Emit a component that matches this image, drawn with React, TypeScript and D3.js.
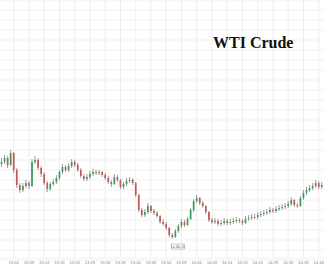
import React from "react";
import * as d3 from "d3";

const W = 324;
const H = 267;

const opens = [66.86,66.88,66.92,66.85,66.97,66.80,66.65,66.60,66.64,66.67,66.64,66.88,66.90,66.82,66.76,66.67,66.61,66.66,66.68,66.72,66.78,66.83,66.80,66.84,66.88,66.85,66.80,66.74,66.71,66.73,66.76,66.78,66.77,66.78,66.75,66.72,66.68,66.66,66.73,66.70,66.63,66.66,66.69,66.70,66.67,66.55,66.40,66.35,66.38,66.44,66.39,66.37,66.34,66.28,66.26,66.22,66.15,66.13,66.19,66.24,66.28,66.25,66.31,66.40,66.49,66.52,66.47,66.44,66.38,66.30,66.28,66.29,66.26,66.27,66.29,66.27,66.28,66.29,66.30,66.29,66.27,66.31,66.32,66.33,66.33,66.35,66.36,66.37,66.38,66.40,66.39,66.41,66.42,66.43,66.44,66.46,66.50,66.45,66.44,66.52,66.57,66.60,66.62,66.64,66.67,66.63,66.65,66.64];
const closes = [66.88,66.92,66.85,66.97,66.80,66.65,66.60,66.64,66.67,66.64,66.88,66.90,66.82,66.76,66.67,66.61,66.66,66.68,66.72,66.78,66.83,66.80,66.84,66.88,66.85,66.80,66.74,66.71,66.73,66.76,66.78,66.77,66.78,66.75,66.72,66.68,66.66,66.73,66.70,66.63,66.66,66.69,66.70,66.67,66.55,66.40,66.35,66.38,66.44,66.39,66.37,66.34,66.28,66.26,66.22,66.15,66.13,66.19,66.24,66.28,66.25,66.31,66.40,66.49,66.52,66.47,66.44,66.38,66.30,66.28,66.29,66.26,66.27,66.29,66.27,66.28,66.29,66.30,66.29,66.27,66.31,66.32,66.33,66.33,66.35,66.36,66.37,66.38,66.40,66.39,66.41,66.42,66.43,66.44,66.46,66.50,66.45,66.44,66.52,66.57,66.60,66.62,66.64,66.67,66.63,66.65,66.64,66.65];
const highs = [66.92,66.95,66.94,67.00,66.98,66.82,66.67,66.67,66.70,66.69,66.91,66.94,66.92,66.84,66.78,66.69,66.68,66.71,66.75,66.80,66.86,66.85,66.87,66.91,66.90,66.87,66.82,66.76,66.76,66.79,66.81,66.80,66.80,66.79,66.77,66.74,66.70,66.76,66.75,66.71,66.68,66.72,66.73,66.72,66.68,66.56,66.42,66.41,66.47,66.45,66.41,66.39,66.35,66.31,66.28,66.23,66.17,66.21,66.26,66.31,66.30,66.33,66.42,66.51,66.55,66.53,66.49,66.45,66.39,66.32,66.32,66.31,66.30,66.32,66.31,66.31,66.32,66.33,66.32,66.31,66.34,66.35,66.36,66.36,66.38,66.39,66.40,66.41,66.43,66.42,66.44,66.45,66.46,66.47,66.49,66.53,66.51,66.47,66.54,66.60,66.63,66.65,66.67,66.70,66.69,66.68,66.67,66.68];
const lows = [66.83,66.86,66.82,66.84,66.77,66.62,66.57,66.58,66.62,66.61,66.63,66.86,66.80,66.73,66.65,66.58,66.59,66.64,66.66,66.70,66.76,66.78,66.78,66.82,66.83,66.78,66.72,66.69,66.69,66.71,66.74,66.75,66.75,66.73,66.70,66.66,66.63,66.65,66.68,66.61,66.61,66.64,66.67,66.65,66.53,66.38,66.33,66.33,66.36,66.37,66.35,66.32,66.26,66.24,66.20,66.13,66.11,66.12,66.17,66.22,66.23,66.24,66.30,66.38,66.47,66.45,66.42,66.36,66.28,66.26,66.26,66.24,66.24,66.25,66.25,66.25,66.26,66.27,66.27,66.25,66.26,66.29,66.30,66.31,66.31,66.33,66.34,66.35,66.36,66.37,66.37,66.39,66.40,66.41,66.42,66.44,66.43,66.42,66.43,66.50,66.55,66.58,66.60,66.62,66.61,66.61,66.62,66.62];

const timeLabels = ["13:04","13:09","13:14","13:19","13:24","13:29","13:34","13:39","13:44","13:49","13:54","13:59","14:04","14:09","14:14","14:19","14:24","14:29","14:34","14:39","14:44"];
const tickIndex = [4,9,14,19,24,29,34,39,44,49,54,59,64,69,74,79,84,89,94,99,104];

const title = "WTI Crude";

export default function App() {
  const n = closes.length;
  const x = d3.scaleLinear().domain([0, n - 1]).range([1.5, 1.5 + (n - 1) * 3.05]);
  const y = d3.scaleLinear().domain([68.5, 65.83]).range([0, H]);
  const yGrid = y.ticks(27);
  const minIdx = d3.minIndex(lows);
  const bw = 1.7;
  return (
    <svg width={W} height={H} style={{ position: "fixed", left: 0, top: 0, background: "#fff" }}>
      <rect x={0} y={0} width={W} height={H} fill="#ffffff" />
      <g>
        {yGrid.map((g, i) => (
          <line key={"h" + i} x1={0} x2={W} y1={y(g)} y2={y(g)} stroke="#f1f1f1" strokeWidth={1} />
        ))}
        {tickIndex.map((t, i) => (
          <line key={"v" + i} x1={x(t)} x2={x(t)} y1={0} y2={H - 10} stroke="#efefef" strokeWidth={1} />
        ))}
      </g>
      <text x={213} y={48} fontFamily="Liberation Serif, serif" fontWeight="bold" fontSize={16} fill="#111">{title}</text>
      <g>
        {closes.map((c, i) => {
          const o = opens[i];
          const up = c >= o;
          const top = y(Math.max(o, c));
          const bot = y(Math.min(o, c));
          return (
            <g key={i}>
              <line x1={x(i)} x2={x(i)} y1={y(highs[i])} y2={y(lows[i])} stroke="#5a5a5a" strokeWidth={0.6} />
              <rect x={x(i) - bw / 2} y={top} width={bw} height={Math.max(0.8, bot - top)} fill={up ? "#3f9a5c" : "#c65a52"} />
            </g>
          );
        })}
      </g>
      <g>
        <rect x={x(minIdx) - 1} y={y(lows[minIdx]) + 5} width={13} height={5} fill="#fff" stroke="#999" strokeWidth={0.5} />
        <text x={x(minIdx) + 5.5} y={y(lows[minIdx]) + 8.8} fontSize={3.6} textAnchor="middle" fill="#555" fontFamily="Liberation Sans, sans-serif">{"Lo " + lows[minIdx].toFixed(2)}</text>
      </g>
      <line x1={0} x2={W} y1={H - 9} y2={H - 9} stroke="#e8e8e8" strokeWidth={0.6} />
      <g>
        {tickIndex.map((t, i) => (
          <text key={"t" + i} x={x(t)} y={H - 3.5} fontSize={4.2} textAnchor="middle" fill="#8a8a8a" fontFamily="Liberation Sans, sans-serif">{timeLabels[i]}</text>
        ))}
      </g>
    </svg>
  );
}
